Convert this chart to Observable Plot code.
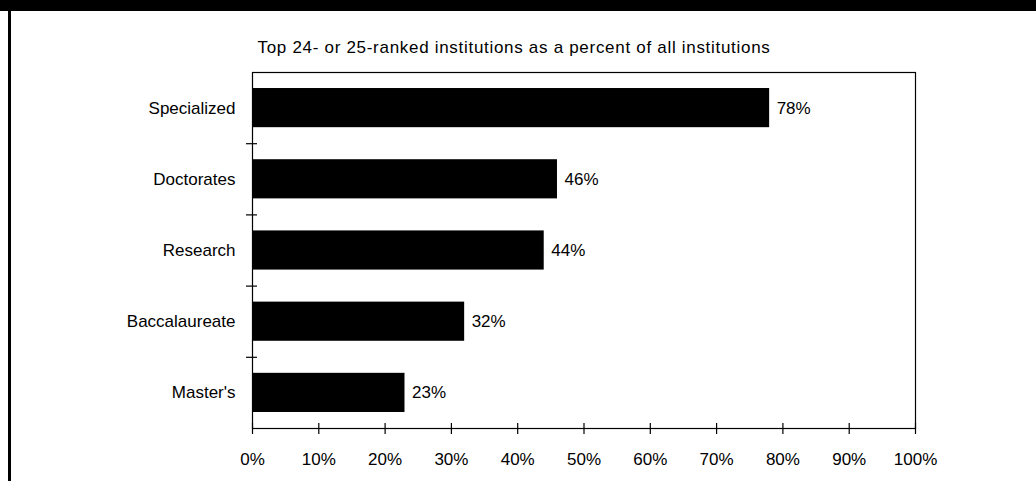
<!DOCTYPE html>
<html>
<head>
<meta charset="utf-8">
<script src="https://cdn.jsdelivr.net/npm/d3@7"></script>
<script src="https://cdn.jsdelivr.net/npm/@observablehq/plot@0.6"></script>
<style>
  html, body { margin: 0; padding: 0; background: #fff; }
  #wrap { position: relative; width: 1036px; height: 481px; overflow: hidden; background: #fff; font-family: "Liberation Sans", Arial, sans-serif; }
  #band { position: absolute; left: 0; top: 0; width: 1036px; height: 11px; background: #000; }
  #border { position: absolute; left: 8px; top: 11px; width: 3px; height: 470px; background: #000; }
  #subtitle { position: absolute; left: 0; width: 1028px; top: 38px; text-align: center; font-size: 17px; letter-spacing: 0.7px; color: #000; white-space: nowrap; }
  #chart { position: absolute; left: 0; top: 0; }
</style>
</head>
<body>
<div id="wrap">
  <div id="chart"></div>
  <div id="band"></div>
  <div id="border"></div>
  <div id="subtitle">Top 24- or 25-ranked institutions as a percent of all institutions</div>
</div>
<script>
const categories = ["Specialized", "Doctorates", "Research", "Baccalaureate", "Master's"];
const values = [78, 46, 44, 32, 23];
const xTicks = [0, 10, 20, 30, 40, 50, 60, 70, 80, 90, 100];

const data = categories.map((c, i) => ({category: c, index: i, value: values[i]}));
const pad = 0.225;
const font = "'Liberation Sans', Arial, sans-serif";
const noText = () => "";

const plot = Plot.plot({
  width: 1036,
  height: 481,
  marginLeft: 252,
  marginRight: 121,
  marginTop: 72,
  marginBottom: 53,
  style: {fontFamily: font, fontSize: "17px", color: "#000", background: "transparent"},
  x: {domain: [0, 100], label: null},
  y: {domain: [0, categories.length], reverse: true, label: null},
  marks: [
    Plot.frame({stroke: "#000", strokeWidth: 1.2}),
    Plot.rectX(data, {x1: 0, x2: "value", y1: d => d.index + pad, y2: d => d.index + 1 - pad, fill: "#000"}),
    Plot.text(data, {x: "value", y: d => d.index + 0.5, text: d => d.value + "%", textAnchor: "start", dx: 7, fontSize: 17, fill: "#000"}),
    // y axis: boundary cross ticks
    Plot.axisY(d3.range(1, categories.length), {tickSize: 11, dx: 5, tickFormat: noText, label: null, stroke: "#000", strokeWidth: 1.2}),
    // y axis: category labels
    Plot.axisY(d3.range(categories.length).map(i => i + 0.5), {tickSize: 0, tickPadding: 17, tickFormat: v => categories[Math.floor(v)], fontSize: 17, label: null}),
    // x axis: cross ticks
    Plot.axisX(xTicks, {tickSize: 11, dy: -5, tickFormat: noText, label: null, stroke: "#000", strokeWidth: 1.2}),
    // x axis: labels
    Plot.axisX(xTicks, {tickSize: 0, tickPadding: 24, tickFormat: v => v + "%", fontSize: 17, label: null})
  ]
});
document.getElementById("chart").appendChild(plot);
</script>
</body>
</html>
